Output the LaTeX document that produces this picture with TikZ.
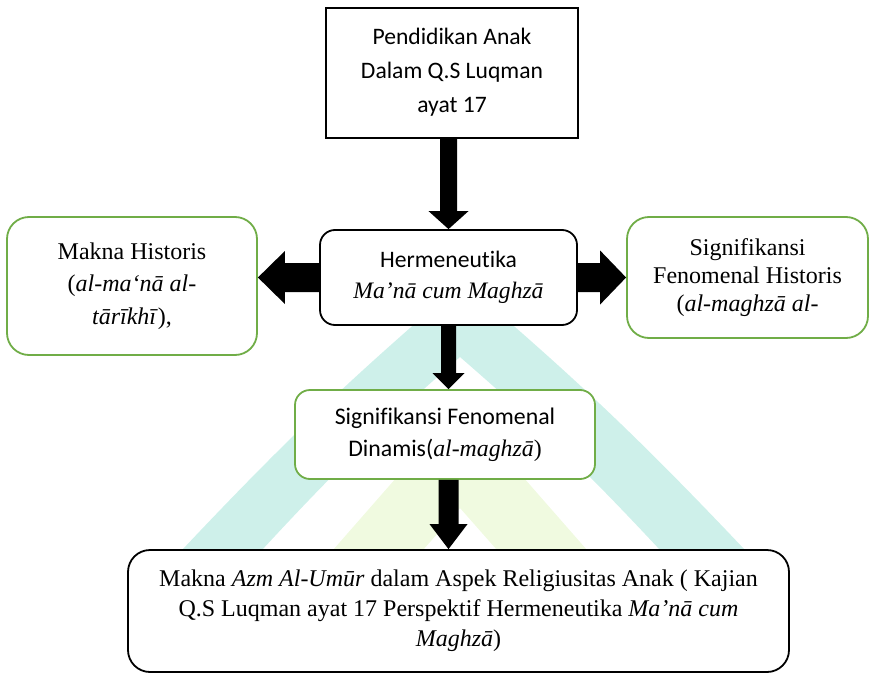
\documentclass[tikz,border=0pt]{standalone}
\usepackage{fontspec}
\setmainfont{Liberation Serif}[Ligatures={TeX,NoCommon}]
\setsansfont{Carlito}[Ligatures=NoCommon]
\usetikzlibrary{calc}
\definecolor{wmteal}{RGB}{206,240,234}
\definecolor{wmlime}{RGB}{240,250,224}
\definecolor{boxgreen}{RGB}{112,173,71}
\tikzset{
  every node/.style={inner sep=0pt, align=center},
  blackrect/.style={draw=black, line width=1.8pt, fill=white},
  blackround/.style={draw=black, line width=1.8pt, fill=white, rounded corners=15pt},
  greenround/.style={draw=boxgreen, line width=1.8pt, fill=white, rounded corners=20pt},
  blockfill/.style={fill=black},
}
% block arrows: #1 start, #2 tip, #3 shaft half width, #4 head half width, #5 head length
\newcommand{\barrowdown}[5]{\fill[blockfill] let \p1=(#1), \p2=(#2) in
  (\x1-#3,\y1) -- (\x1+#3,\y1) -- (\x1+#3,\y2+#5) -- (\x1+#4,\y2+#5) -- (\x1,\y2)
  -- (\x1-#4,\y2+#5) -- (\x1-#3,\y2+#5) -- cycle;}
\newcommand{\barrowleft}[5]{\fill[blockfill] let \p1=(#1), \p2=(#2) in
  (\x1,\y1-#3) -- (\x1,\y1+#3) -- (\x2+#5,\y1+#3) -- (\x2+#5,\y1+#4) -- (\x2,\y1)
  -- (\x2+#5,\y1-#4) -- (\x2+#5,\y1-#3) -- cycle;}
\newcommand{\barrowright}[5]{\fill[blockfill] let \p1=(#1), \p2=(#2) in
  (\x1,\y1-#3) -- (\x1,\y1+#3) -- (\x2-#5,\y1+#3) -- (\x2-#5,\y1+#4) -- (\x2,\y1)
  -- (\x2-#5,\y1-#4) -- (\x2-#5,\y1-#3) -- cycle;}
\begin{document}
\begin{tikzpicture}[x=1pt,y=1pt]
\useasboundingbox (0,0) rectangle (872,-674);
% watermark
\fill[wmteal] (182,-550) to[bend left=3] (463,-282) to[bend left=3] (745,-550)
  -- (660,-550) to[bend right=3] (460,-357) to[bend right=3] (262,-550) -- cycle;
\fill[wmlime] (333,-550) -- (460,-405) -- (587,-550) -- (497,-550) -- (460,-508) -- (423,-550) -- cycle;
% boxes
\node[blackrect, minimum width=252pt, minimum height=130pt,
  font=\sffamily\fontsize{23.6}{34}\selectfont] (top) at (452,-73)
  {Pendidikan Anak\\Dalam Q.S Luqman\\ayat 17\rule[-6pt]{0pt}{6pt}};
\node[blackround, minimum width=257pt, minimum height=95pt,
  font=\sffamily\fontsize{23.6}{31}\selectfont] (herm) at (448.5,-277.5)
  {Hermeneutika\\{\rmfamily\itshape Ma’nā cum Maghzā}};
\node[greenround, rounded corners=22pt, minimum width=250pt, minimum height=138pt,
  font=\fontsize{24}{32.5}\selectfont] (left) at (132,-286)
  {Makna Historis\\(\textit{al-ma‘nā al-}\\\textit{tārīkhī}),};
\node[greenround, rounded corners=22pt, minimum width=241pt, minimum height=121pt,
  font=\fontsize{24}{28}\selectfont] (right) at (747.5,-277.5)
  {Signifikansi\\Fenomenal Historis\\(\textit{al-maghzā al-}};
\node[greenround, rounded corners=15pt, minimum width=300pt, minimum height=89pt,
  font=\sffamily\fontsize{23.8}{32}\selectfont] (sig) at (445,-434.5)
  {Signifikansi Fenomenal\\Dinamis({\rmfamily\itshape al-maghzā}{\rmfamily )}};
\node[blackround, rounded corners=22pt, minimum width=661pt, minimum height=122pt,
  font=\fontsize{24}{30}\selectfont] (bottom) at (458.5,-611)
  {Makna \textit{Azm Al-Umūr} dalam Aspek Religiusitas Anak ( Kajian\\Q.S Luqman ayat 17 Perspektif Hermeneutika \textit{Ma’nā cum}\\\textit{Maghzā})};
% arrows
\barrowdown{top.south -| herm.north}{herm.north}{8.5}{20}{18}
\barrowdown{herm.south}{herm.south |- sig.north}{7.5}{16}{16}
\barrowdown{herm.south |- sig.south}{herm.south |- bottom.north}{10}{19}{25}
\barrowleft{herm.west}{herm.west -| left.east}{14.5}{26.5}{27}
\barrowright{herm.east}{herm.east -| right.west}{14.5}{27}{26}
\end{tikzpicture}
\end{document}
